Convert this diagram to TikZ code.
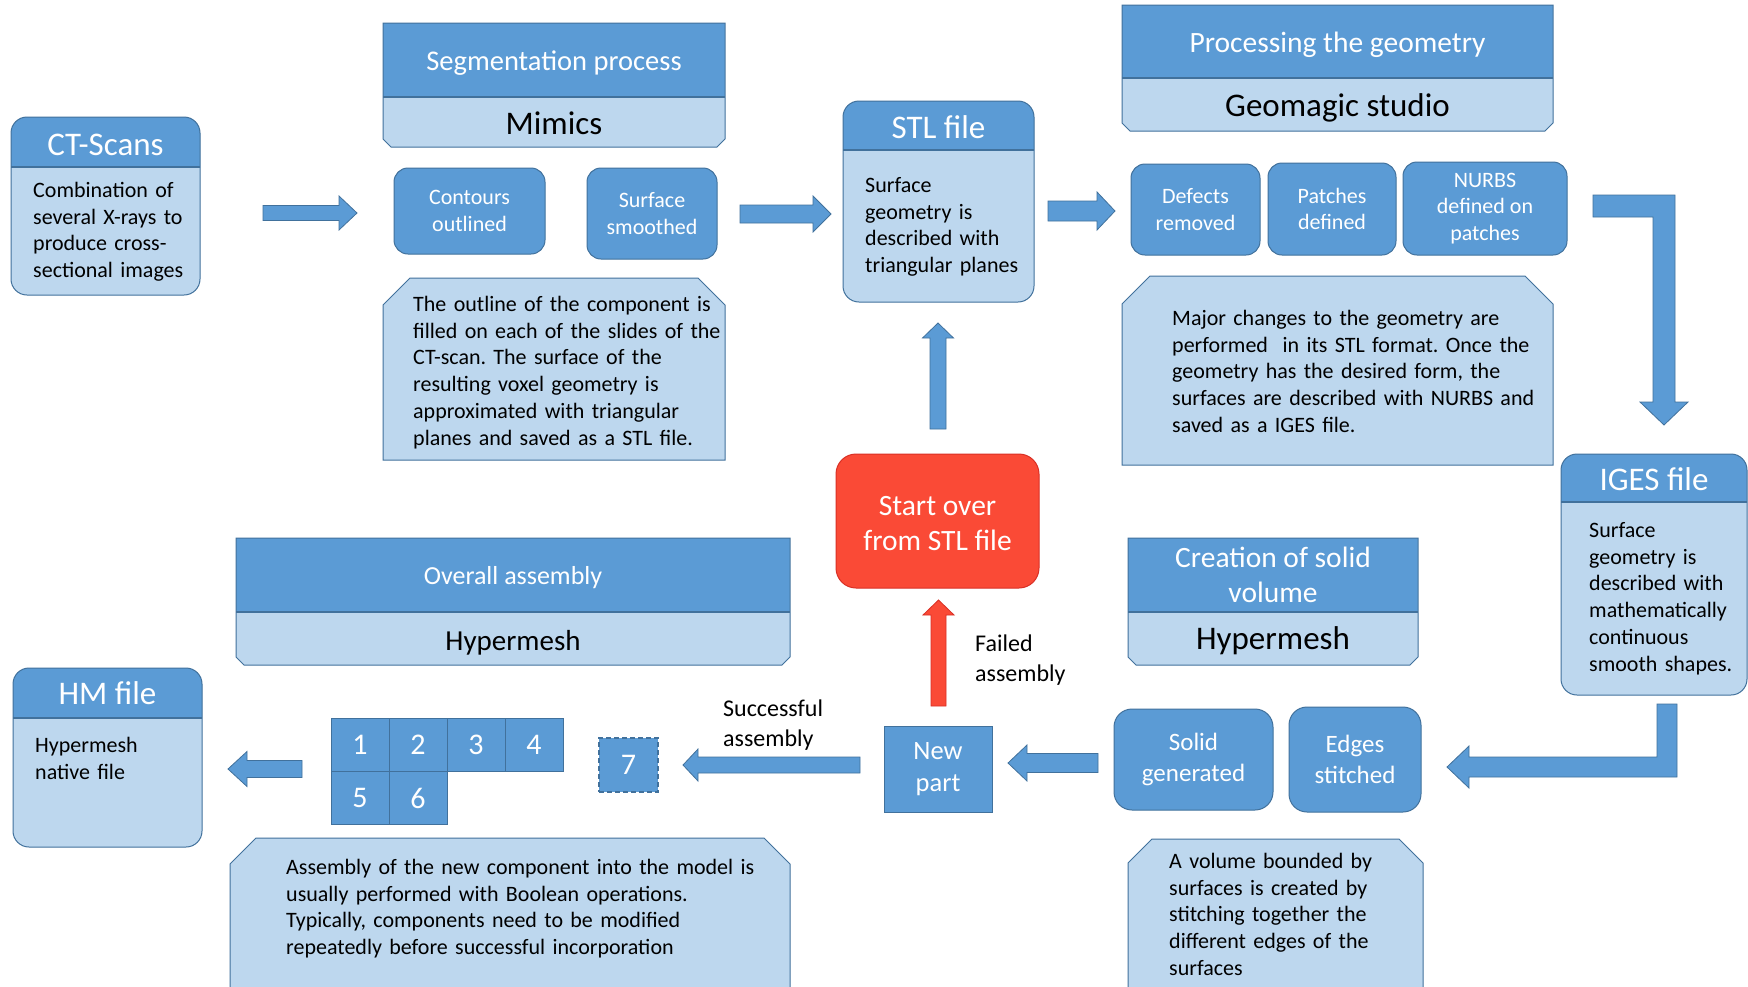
\documentclass[tikz,border=0pt]{standalone}
\usepackage{fontspec}
\setmainfont{Carlito}
\frenchspacing
\usetikzlibrary{calc}
\definecolor{db}{HTML}{5B9BD5}
\definecolor{bd}{HTML}{41719C}
\definecolor{lb}{HTML}{BDD7EE}
\definecolor{rf}{HTML}{FA4A36}
\definecolor{rb}{HTML}{D93025}
\newcommand{\fl}{\rule{0pt}{20pt}}
\newcommand{\mycard}[5]{%
  \fill[lb, rounded corners=16pt] (#1,#2) rectangle (#3,#4);
  \begin{scope}\clip (#1,#2) rectangle (#3,#5);
  \fill[db, rounded corners=16pt] (#1,#2) rectangle (#3,#4);\end{scope}
  \draw[bd, line width=2pt] (#1,#5) -- (#3,#5);
  \draw[bd, line width=1pt, rounded corners=16pt] (#1,#2) rectangle (#3,#4);}
\newcommand{\mytitlebox}[5]{%
  \fill[db] (#1,#2) rectangle (#3,#5);
  \fill[lb] (#1,#5) -- (#3,#5) -- (#3,#4-8) -- (#3-8,#4) -- (#1+8,#4) -- (#1,#4-8) -- cycle;
  \draw[bd, line width=2pt] (#1,#5) -- (#3,#5);
  \draw[bd, line width=1pt] (#1,#2) -- (#3,#2) -- (#3,#4-8) -- (#3-8,#4) -- (#1+8,#4) -- (#1,#4-8) -- cycle;}
\newcommand{\mynote}[5]{%
  \draw[bd, fill=lb, line width=1pt] (#1,#2+#5) -- (#1+#5,#2) -- (#3-#5,#2) -- (#3,#2+#5) -- (#3,#4) -- (#1,#4) -- cycle;}
\tikzset{
  body/.style={font=\fontsize{22}{26.8}\selectfont, text=black, anchor=north west, inner sep=0pt, align=left, text width=#1},
  lab/.style={font=\fontsize{24}{30}\selectfont, text=black, anchor=north west, inner sep=0pt, align=left, text width=#1},
  cardtitle/.style={font=\fontsize{33}{40}\selectfont, text=white, anchor=base, inner sep=0pt},
  proc/.style={fill=db, draw=bd, line width=1pt, rounded corners=14pt, text=white, align=center, inner sep=0pt, font=\fontsize{22}{26.8}\selectfont},
  cell/.style={fill=db, draw=bd, line width=1pt, minimum width=58pt, minimum height=53pt, text=white, inner sep=0pt, font=\fontsize{30}{36}\selectfont},
  barrow/.style n args={3}{draw=bd, fill=db, line width=0.8pt, line join=miter, to path={
    ($(\tikztostart)!#1!90:(\tikztotarget)$) --
    ($($(\tikztotarget)!#3!(\tikztostart)$)!#1!-90:(\tikztostart)$) --
    ($($(\tikztotarget)!#3!(\tikztostart)$)!#2!-90:(\tikztostart)$) --
    (\tikztotarget) --
    ($($(\tikztotarget)!#3!(\tikztostart)$)!#2!90:(\tikztostart)$) --
    ($($(\tikztotarget)!#3!(\tikztostart)$)!#1!90:(\tikztostart)$) --
    ($(\tikztostart)!#1!-90:(\tikztotarget)$) -- cycle}},
}
\begin{document}
\begin{tikzpicture}[x=1pt,y=-1pt]
\clip (0,0) rectangle (1748,986);
\fill[white] (0,0) rectangle (1748,986);

% ---------- CT-Scans card
\mycard{11}{117}{200}{295}{167}
\node[cardtitle] (ctt) at (105.5,155) {CT-Scans};
\node[body=165pt] (ctb) at (33,177) {\fl Combination of\\several X-rays to\\produce cross-\\sectional images};

% ---------- Segmentation
\mytitlebox{383}{23}{725}{147}{97}
\node[font=\fontsize{28.5}{34}\selectfont, text=white, anchor=base, inner sep=0pt] (segt) at (554,70) {Segmentation process};
\node[font=\fontsize{33}{40}\selectfont, text=black, anchor=base, inner sep=0pt] (mim) at (554,134) {Mimics};
\node[proc, minimum width=151pt, minimum height=86pt] (cont) at (469.5,211) {Contours\\outlined};
\node[proc, minimum width=130pt, minimum height=91pt] (smooth) at (652,213.5) {Surface\\smoothed};
\mynote{383}{278}{725}{460}{27}
\node[body=320pt] (segn) at (413,291) {\fl The outline of the component is\\filled on each of the slides of the\\CT-scan. The surface of the\\resulting voxel geometry is\\approximated with triangular\\planes and saved as a STL file.};

% ---------- STL card
\mycard{843}{101}{1034}{302}{150}
\node[cardtitle] (stlt) at (938.5,138) {STL file};
\node[body=170pt] (stlb) at (865,172) {\fl Surface\\geometry is\\described with\\triangular planes};

% ---------- Processing
\mytitlebox{1122}{5}{1553}{131}{78}
\node[font=\fontsize{29.5}{35}\selectfont, text=white, anchor=base, inner sep=0pt] (prt) at (1337.5,52) {Processing the geometry};
\node[font=\fontsize{33}{40}\selectfont, text=black, anchor=base, inner sep=0pt] (geo) at (1337.5,116) {Geomagic studio};
\node[proc, minimum width=129pt, minimum height=91pt] (def) at (1195.5,209.5) {Defects\\removed};
\node[proc, minimum width=128pt, minimum height=92pt] (pat) at (1332,209) {Patches\\defined};
\node[proc, minimum width=164pt, minimum height=93pt] (nurbs) at (1485,208.5) {NURBS\\defined on\\patches};
\mynote{1122}{276}{1553}{465}{28}
\node[body=380pt] (prn) at (1172,305) {\fl Major changes to the geometry are\\performed~ in its STL format. Once the\\geometry has the desired form, the\\surfaces are described with NURBS and\\saved as a IGES file.};

% ---------- IGES card
\mycard{1561}{454}{1747}{695}{502}
\node[cardtitle] (igt) at (1654,490) {IGES file};
\node[body=160pt] (igb) at (1589,517) {\fl Surface\\geometry is\\described with\\mathematically\\continuous\\smooth shapes.};

% ---------- Start over
\node[fill=rf, draw=rb, line width=1pt, rounded corners=20pt, minimum width=203pt, minimum height=134pt, inner sep=0pt] (start) at (937.5,521) {};
\node[text=white, align=center, inner sep=0pt, font=\fontsize{29.5}{35}\selectfont] (startt) at ($(start.center)+(0,3)$) {Start over\\from STL file};

% ---------- Overall assembly
\mytitlebox{236}{538}{790}{665}{612}
\node[font=\fontsize{26}{31}\selectfont, text=white, anchor=base, inner sep=0pt] (ovt) at (513,584) {Overall assembly};
\node[font=\fontsize{29}{35}\selectfont, text=black, anchor=base, inner sep=0pt] (hm1) at (513,650) {Hypermesh};

% ---------- Creation of solid volume
\mytitlebox{1128}{538}{1418}{665}{612}
\node[font=\fontsize{29.5}{35}\selectfont, text=white, anchor=north, inner sep=0pt, align=center] (crt) at (1273,543) {\rule{0pt}{24pt}Creation of solid\\volume};
\node[font=\fontsize{33}{40}\selectfont, text=black, anchor=base, inner sep=0pt] (hm2) at (1273,649) {Hypermesh};

% ---------- HM card
\mycard{13}{668}{202}{847}{718}
\node[cardtitle] (hmt) at (107.5,704) {HM file};
\node[body=150pt] (hmb) at (35,732) {\fl Hypermesh\\native file};

% ---------- grid of parts
\node[cell] (c1) at (360,744.5) {1};
\node[cell] (c2) at (418,744.5) {2};
\node[cell] (c3) at (476,744.5) {3};
\node[cell] (c4) at (534,744.5) {4};
\node[cell] (c5) at (360,798) {5};
\node[cell] (c6) at (418,798) {6};
\node[cell, dashed, dash pattern=on 5pt off 3pt, line width=1.3pt, minimum width=59pt, minimum height=54pt] (c7) at (628.5,765) {7};

% ---------- bottom row boxes
\node[fill=db, draw=bd, line width=1pt, minimum width=108pt, minimum height=86pt, text=white, align=center, inner sep=0pt, font=\fontsize{26.5}{31.5}\selectfont] (newp) at (938,769) {New\\part};
\node[proc, minimum width=159pt, minimum height=101pt, rounded corners=18pt, font=\fontsize{25}{31}\selectfont] (solid) at (1193.5,759.5) {Solid\\generated};
\node[proc, minimum width=132pt, minimum height=105pt, rounded corners=18pt, font=\fontsize{25}{31}\selectfont] (edges) at (1355,759.5) {Edges\\stitched};

\mynote{230}{838}{790}{1000}{26}
\node[body=470pt] (asn) at (286,854) {\fl Assembly of the new component into the model is\\usually performed with Boolean operations.\\Typically, components need to be modified\\repeatedly before successful incorporation};
\mynote{1128}{839}{1423}{1000}{24}
\node[body=240pt] (voln) at (1169,848) {\fl A volume bounded by\\surfaces is created by\\stitching together the\\different edges of the\\surfaces};

% ---------- labels
\node[lab=140pt] (succ) at (723,696) {\fl Successful\\assembly};
\node[lab=140pt] (fail) at (975,631) {\fl Failed\\assembly};

% ---------- straight block arrows
\coordinate (a1s) at (263,213); \coordinate (a1e) at (357,213);
\draw[barrow={7.5pt}{17pt}{18pt}] (a1s) to (a1e);
\coordinate (a2s) at (740,214); \coordinate (a2e) at (831,214);
\draw[barrow={9pt}{18pt}{18pt}] (a2s) to (a2e);
\coordinate (a3s) at (1048,211); \coordinate (a3e) at (1115,211);
\draw[barrow={10pt}{19pt}{18pt}] (a3s) to (a3e);
\coordinate (a4s) at (938,429); \coordinate (a4e) at (938,323);
\draw[barrow={8pt}{15.5pt}{15pt}] (a4s) to (a4e);
\coordinate (a5s) at (938.5,706); \coordinate (a5e) at (938.5,600);
\draw[barrow={7.5pt}{15.5pt}{15pt}, draw=rb, fill=rf] (a5s) to (a5e);
\coordinate (a6s) at (1098,763); \coordinate (a6e) at (1008,763);
\draw[barrow={9.5pt}{18pt}{19pt}] (a6s) to (a6e);
\coordinate (a7s) at (860,765); \coordinate (a7e) at (683,765);
\draw[barrow={8pt}{16pt}{15pt}] (a7s) to (a7e);
\coordinate (a8s) at (302,769); \coordinate (a8e) at (228,769);
\draw[barrow={8.5pt}{17.5pt}{19pt}] (a8s) to (a8e);

% ---------- bent block arrows
\draw[bd, fill=db, line width=0.8pt] (1593,195) -- (1675,195) -- (1675,402) -- (1688,402) -- (1664,425) -- (1640,402) -- (1653,402) -- (1653,217) -- (1593,217) -- cycle;
\draw[bd, fill=db, line width=0.8pt] (1657,704) -- (1677,704) -- (1677,777) -- (1469,777) -- (1469,788) -- (1447,767) -- (1469,746) -- (1469,757) -- (1657,757) -- cycle;
\end{tikzpicture}
\end{document}
